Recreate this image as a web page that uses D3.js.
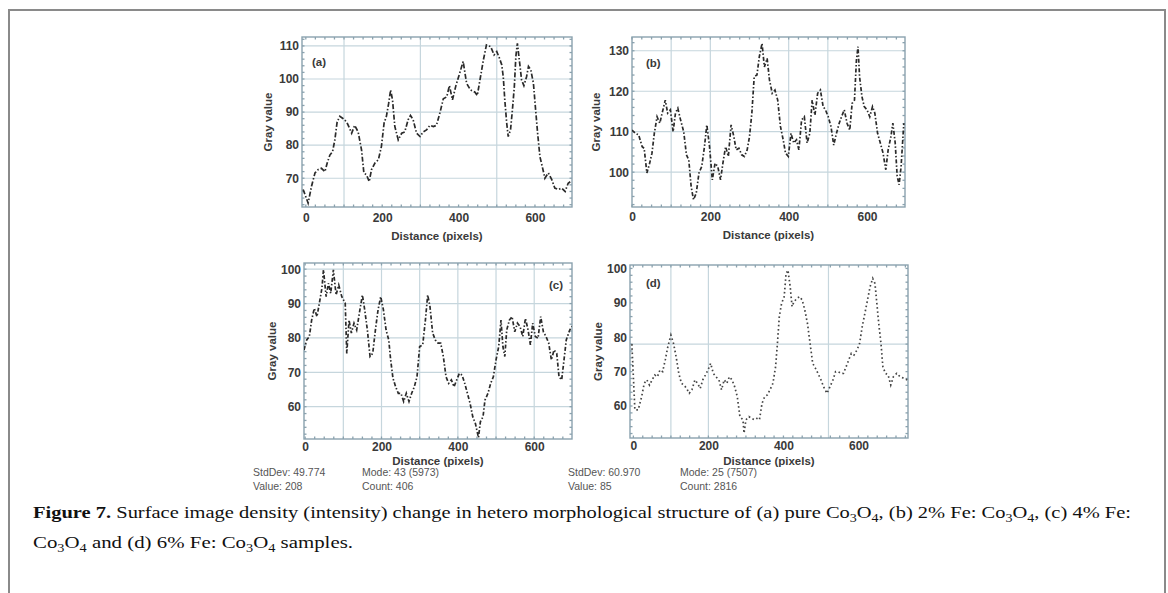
<!DOCTYPE html>
<html><head><meta charset="utf-8">
<script src="https://cdn.jsdelivr.net/npm/d3@7"></script>
<style>
html,body{margin:0;padding:0;background:#fff;}
svg{display:block;}
</style></head>
<body>
<script>
// ---------------- DATA ----------------
const xTickLabels = [0, 200, 400, 600];

const aDistance = [-7,6,15,24,32,41,50,56,63,70,76,82,89,98,107,115,120,128,137,146,152,159,166,172,181,190,198,205,211,217,222,227,233,242,251,259,268,274,281,290,299,307,316,325,334,342,351,360,369,376,384,393,403,412,421,431,443,449,456,465,473,484,493,500,507,513,517,521,526,530,536,541,546,550,554,559,565,571,578,583,589,596,601,607,613,619,626,635,644,652,661,670,679,687,693];
const aGray = [66.6,62.5,67.6,71.6,72.6,73,72,74.6,77,78,81.6,87,88.7,88,87,85,83.6,86,84,78.5,71.6,71,69,72.6,74.6,75.6,79.6,86.7,88.7,92.7,96.7,93.7,85.7,81.6,83.6,84,87.7,89,87.7,83.6,82.6,84,84.6,86,85.6,86,89.7,94,94.6,98,93.7,98,101.8,105.3,98.7,96.7,96,95,99.7,105.8,110.3,109.8,107.3,108.3,106.3,104.3,100.7,93.7,86.7,82.6,84.6,90.7,97.7,106.8,110.8,105.8,99.7,98,100.7,103.8,102.8,98.7,91.7,83.6,76.5,73.6,70,71.6,69.6,67,66.6,67,66,68.5,69];
const aYTicks = [70, 80, 90, 100, 110];
const aXGrid = [100, 300, 500];
const aYGrid = [70, 80, 90, 100, 110];

const bDistance = [0,9,17,26,31,38,45,51,57,64,71,77,85,91,98,105,111,117,123,132,139,145,151,157,164,171,178,185,191,198,205,212,219,226,232,239,246,253,260,266,273,280,287,294,300,306,312,319,325,332,338,345,351,358,365,372,379,386,392,399,406,413,420,426,433,440,447,454,460,467,474,481,488,494,501,508,515,522,529,535,542,549,556,562,568,573,577,581,587,593,600,607,614,620,627,634,641,648,654,661,666,672,677,682,687,694];
const bGray = [110.4,109.6,109.2,106.3,105.9,99.8,102.2,104.7,109.6,113.7,112.1,114.6,117.8,114.6,115.4,110,114.6,115.8,113.3,110,104.3,103,96.5,93.2,94.8,99.8,101.4,106.3,111.7,106.3,98.1,102.2,101.4,98.1,102.2,106.3,103.9,111.7,108.8,105.5,105.9,104.3,103.9,105.5,108.8,114.6,123.6,124,128.5,131.8,126,128.1,122.8,119.5,120.3,117.8,111.3,108,104.7,103.9,109.6,107.2,108,105.5,112.9,113.7,107.2,109.6,117.8,114.1,119.5,120.3,116.2,115.4,113.7,111.3,106.7,109.6,112.1,113.7,115.4,112.1,110.4,117,117.8,127.7,131,123.6,118.7,116.2,115.4,113.7,116.2,114.6,109.6,107.2,104.7,100.6,105.5,108.8,112.1,107.2,99,96.9,101.4,112.1];
const bYTicks = [100, 110, 120, 130];
const bXGrid = [100, 200, 400, 500];
const bYGrid = [100, 110, 120, 130];

const cDistance = [-3,4,11,17,24,31,38,44,48,55,61,67,74,81,88,96,105,109,115,121,128,135,142,150,156,163,170,177,184,191,198,205,212,219,224,230,237,244,251,258,265,272,279,286,293,300,308,315,321,327,334,341,348,355,362,369,376,383,390,397,404,411,418,425,432,439,446,454,459,466,471,479,486,493,500,507,513,518,523,528,535,542,549,556,563,570,577,584,590,596,603,610,617,624,631,638,645,652,659,665,672,677,684,693,699];
const cGray = [76.5,79.4,80.4,85.2,88.6,86.2,90.6,94.5,99.8,92,95.9,93,99.8,92.5,95.4,92,90.1,75.5,85.2,81.4,84.3,82.3,87.2,92.5,88.2,82.3,74.6,75.5,82.3,88.2,92,88.2,82.3,79.4,73.6,68.3,65.8,63.9,63.9,61.5,63.9,61.5,63.9,65.8,68.7,77.5,78,85.2,92.5,89.1,81.4,79.4,78.5,78.5,74.6,68.7,66.8,67.8,65.8,67.8,69.7,69.2,66.8,63.9,61,57.1,55.1,51,55.6,57.1,61.9,63.9,66.8,68.7,73.6,77.5,85.2,77.5,74.6,82.3,85.2,86.2,81.8,84.3,83.3,80.4,85.7,82.3,78,84.3,80.4,79.9,86.2,81.8,80.4,78.5,73.6,76.5,75.5,68.7,67.8,72.6,79.4,82.3,83.3];
const cYTicks = [60, 70, 80, 90, 100];
const cXGrid = [100, 200, 300, 400, 500, 600];
const cYGrid = [60, 70, 80, 90, 100];

const dDistance = [-4,4,13,22,29,36,43,50,57,64,71,78,85,92,100,107,114,121,128,135,142,149,156,164,171,178,185,192,199,206,213,220,228,235,242,249,256,263,270,277,284,292,295,300,308,315,322,329,336,343,350,357,364,372,379,384,389,395,402,407,412,418,423,428,436,443,450,457,464,471,478,485,492,500,507,516,524,532,539,546,553,560,567,574,581,588,596,603,610,617,624,631,638,644,649,654,660,665,672,679,686,693,702,711,720,730];
const dGray = [78,58.9,58.9,62.7,66.6,67.6,66.1,67.6,69,68.5,70.5,70,73.4,77.3,80.6,78.2,74.3,69.5,66.6,66.1,65.1,63.7,64.7,67.6,66.6,65.1,67.6,69,70.5,72.4,69.5,68.5,67.6,64.7,67.6,66.6,68.5,67.6,65.6,62.7,56.9,56,52.1,56,56.9,56.4,56,56.4,56,60.8,62.7,63.2,64.7,66.6,71.4,78.2,86,89.8,91.8,98.5,99.5,94.7,88.9,90.3,91.3,91.8,90.8,87.9,84,78.2,72.4,71,69.5,67.6,65.6,63.7,65.6,67.6,70,70,69.5,69.5,71.4,73.4,75.3,74.8,76.3,78.2,83.1,86.9,90.8,94.7,97.1,95.6,89.8,84,78.2,71.4,69.5,69,66.1,68.5,69.5,68.5,68.1,67.6];
const dYTicks = [60, 70, 80, 90, 100];
const dXGrid = [100, 200, 520];
const dYGrid = [78];

const panelLetters = ["(a)", "(b)", "(c)", "(d)"];
const statsLeft = [["StdDev: 49.774", "Value: 208"], ["Mode: 43 (5973)", "Count: 406"]];
const statsRight = [["StdDev: 60.970", "Value: 85"], ["Mode: 25 (7507)", "Count: 2816"]];
const yTitle = "Gray value";
const xTitle = "Distance (pixels)";

// ---------------- LAYOUT ----------------
const W = 1168, H = 593;
const panels = [
  {xs: aDistance, ys: aGray, yTicks: aYTicks, xGrid: aXGrid, yGrid: aYGrid, label: panelLetters[0],
   box: [302, 37, 572, 207], xDom: [-10, 697], yDom: [61.3, 112.7], tickPad: 6.5, titleY: 236, yTitleX: 268,
   labelPos: [312, 62, "start"], dash: "5,2,1.5,2", color: "#2a2a2a"},
  {xs: bDistance, ys: bGray, yTicks: bYTicks, xGrid: bXGrid, yGrid: bYGrid, label: panelLetters[1],
   box: [632, 37, 905, 207], xDom: [0, 697], yDom: [91.4, 133.4], tickPad: 5.5, titleY: 235, yTitleX: 596,
   labelPos: [646, 63, "start"], dash: "4,2,1.5,2", color: "#2a2a2a"},
  {xs: cDistance, ys: cGray, yTicks: cYTicks, xGrid: cXGrid, yGrid: cYGrid, label: panelLetters[2],
   box: [304, 263, 572, 439], xDom: [-3, 699], yDom: [50.6, 101.8], tickPad: 3.2, titleY: 461, yTitleX: 272,
   labelPos: [563, 285, "end"], dash: "4,2,1.5,2", color: "#2a2a2a"},
  {xs: dDistance, ys: dGray, yTicks: dYTicks, xGrid: dXGrid, yGrid: dYGrid, label: panelLetters[3],
   box: [630, 265, 908, 438], xDom: [-9, 732], yDom: [50.7, 101], tickPad: 3.7, titleY: 461, yTitleX: 598,
   labelPos: [646, 283, "start"], dash: "1.6,2.6", color: "#444"}
];

const svg = d3.select("body").append("svg").attr("width", W).attr("height", H);
svg.append("rect").attr("width", W).attr("height", H).attr("fill", "#fff");

// page border
svg.append("path").attr("d", `M9,${H} V10 H1165 V${H}`).attr("fill", "none")
  .attr("stroke", "#8a8a8a").attr("stroke-width", 2);

const sans = "'Liberation Sans', Arial, Helvetica, sans-serif";
const frameCol = "#8aa2ae";
const gridCol = "#c6d6dd";
const textCol = "#3a3a3a";

panels.forEach((p, i) => {
  const [x0, y0, x1, y1] = p.box;
  const x = d3.scaleLinear().domain(p.xDom).range([x0, x1]);
  const y = d3.scaleLinear().domain(p.yDom).range([y1, y0]);
  const g = svg.append("g");
  const clipId = "clip" + i;
  svg.append("clipPath").attr("id", clipId).append("rect")
    .attr("x", x0).attr("y", y0).attr("width", x1 - x0).attr("height", y1 - y0);

  // grid
  g.selectAll(".gx").data(p.xGrid).join("line")
    .attr("x1", d => x(d)).attr("x2", d => x(d)).attr("y1", y0).attr("y2", y1)
    .attr("stroke", gridCol).attr("stroke-width", 1.2);
  g.selectAll(".gy").data(p.yGrid).join("line")
    .attr("y1", d => y(d)).attr("y2", d => y(d)).attr("x1", x0).attr("x2", x1)
    .attr("stroke", gridCol).attr("stroke-width", 1.2);

  // minor ticks
  const xm = d3.range(Math.ceil(p.xDom[0] / 25) * 25, p.xDom[1], 25);
  const ym = d3.range(Math.ceil(p.yDom[0] / 2) * 2, p.yDom[1], 2);
  g.selectAll(".mxb").data(xm).join("line")
    .attr("x1", d => x(d)).attr("x2", d => x(d)).attr("y1", y1).attr("y2", y1 - 2.5)
    .attr("stroke", frameCol).attr("stroke-width", 1.3);
  g.selectAll(".mxt").data(xm).join("line")
    .attr("x1", d => x(d)).attr("x2", d => x(d)).attr("y1", y0).attr("y2", y0 + 2.5)
    .attr("stroke", frameCol).attr("stroke-width", 1.3);
  g.selectAll(".myl").data(ym).join("line")
    .attr("y1", d => y(d)).attr("y2", d => y(d)).attr("x1", x0).attr("x2", x0 + 2.5)
    .attr("stroke", frameCol).attr("stroke-width", 1.3);
  g.selectAll(".myr").data(ym).join("line")
    .attr("y1", d => y(d)).attr("y2", d => y(d)).attr("x1", x1).attr("x2", x1 - 2.5)
    .attr("stroke", frameCol).attr("stroke-width", 1.3);

  // frame
  g.append("rect").attr("x", x0).attr("y", y0).attr("width", x1 - x0).attr("height", y1 - y0)
    .attr("fill", "none").attr("stroke", frameCol).attr("stroke-width", 1.4);

  // curve
  const pts = d3.zip(p.xs, p.ys);
  const line = d3.line().x(d => x(d[0])).y(d => y(d[1])).curve(d3.curveLinear);
  g.append("path").datum(pts).attr("d", line).attr("clip-path", `url(#${clipId})`)
    .attr("fill", "none").attr("stroke", p.color).attr("stroke-width", 1.7)
    .attr("stroke-dasharray", p.dash).attr("stroke-linecap", "butt");

  // axes
  const ax = g.append("g").attr("transform", `translate(0,${y1})`)
    .call(d3.axisBottom(x).tickValues(xTickLabels).tickSize(0).tickPadding(p.tickPad).tickFormat(d3.format("d")));
  const ay = g.append("g").attr("transform", `translate(${x0},0)`)
    .call(d3.axisLeft(y).tickValues(p.yTicks).tickSize(0).tickPadding(3).tickFormat(d3.format("d")));
  [ax, ay].forEach(a => {
    a.select(".domain").remove();
    a.selectAll("text").attr("font-family", sans).attr("font-weight", "bold")
      .attr("font-size", 12).attr("fill", textCol);
  });

  // titles
  g.append("text").attr("x", (x0 + x1) / 2).attr("y", p.titleY).attr("dy", "0.35em")
    .attr("text-anchor", "middle").attr("font-family", sans).attr("font-weight", "bold")
    .attr("font-size", 11.5).attr("fill", textCol).text(xTitle);
  g.append("text").attr("transform", `translate(${p.yTitleX},${(y0 + y1) / 2}) rotate(-90)`)
    .attr("dy", "0.35em").attr("text-anchor", "middle").attr("font-family", sans)
    .attr("font-weight", "bold").attr("font-size", 11.5).attr("fill", textCol).text(yTitle);

  // panel letter
  g.append("text").attr("x", p.labelPos[0]).attr("y", p.labelPos[1]).attr("dy", "0.35em")
    .attr("text-anchor", p.labelPos[2]).attr("font-family", sans).attr("font-weight", "bold")
    .attr("font-size", 11.5).attr("fill", textCol).text(p.label);
});

// stats
const statsFont = "'Liberation Sans Narrow', 'Arial Narrow', 'Liberation Sans', sans-serif";
const statCols = [[253, statsLeft[0]], [362, statsLeft[1]], [568, statsRight[0]], [680, statsRight[1]]];
statCols.forEach(([sx, lines]) => {
  lines.forEach((t, k) => {
    svg.append("text").attr("x", sx).attr("y", 476 + k * 14).attr("font-family", statsFont)
      .attr("font-size", 10.5).attr("fill", "#555").text(t);
  });
});

// caption
const serif = "'Liberation Serif', 'Times New Roman', serif";
function addRich(parent, parts) {
  parts.forEach(pt => {
    const ts = parent.append("tspan").text(pt.t);
    if (pt.b) ts.attr("font-weight", "bold");
    if (pt.sub) ts.attr("font-size", 12).attr("dy", 4);
    if (pt.up) ts.attr("dy", -4);
  });
}
const cap1 = svg.append("text").attr("x", 33).attr("y", 518).attr("font-family", serif)
  .attr("font-size", 17.5).attr("fill", "#111")
  .attr("textLength", 1098).attr("lengthAdjust", "spacingAndGlyphs");
addRich(cap1, [
  {t: "Figure 7.", b: true}, {t: " Surface image density (intensity) change in hetero morphological structure of (a) pure Co"},
  {t: "3", sub: true}, {t: "O", up: true}, {t: "4", sub: true}, {t: ", (b) 2% Fe: Co", up: true},
  {t: "3", sub: true}, {t: "O", up: true}, {t: "4", sub: true}, {t: ", (c) 4% Fe:", up: true}
]);
const cap2 = svg.append("text").attr("x", 33).attr("y", 548).attr("font-family", serif)
  .attr("font-size", 17.5).attr("fill", "#111")
  .attr("textLength", 320).attr("lengthAdjust", "spacingAndGlyphs");
addRich(cap2, [
  {t: "Co"}, {t: "3", sub: true}, {t: "O", up: true}, {t: "4", sub: true},
  {t: " and (d) 6% Fe: Co", up: true}, {t: "3", sub: true}, {t: "O", up: true}, {t: "4", sub: true},
  {t: " samples.", up: true}
]);
</script>
</body></html>
